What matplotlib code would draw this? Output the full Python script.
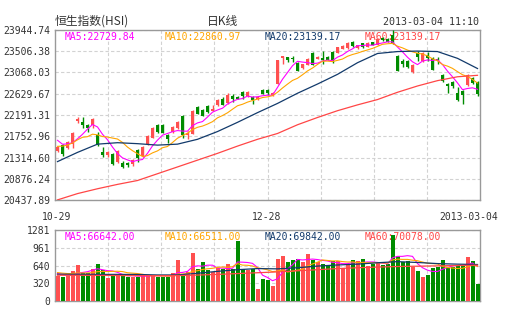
import matplotlib
matplotlib.use("Agg")
import matplotlib.pyplot as plt
import numpy as np
import pandas as pd

plt.rcParams['font.family'] = ['Noto Sans CJK SC', 'DejaVu Sans']

W, H = 505, 330

# daily candles, 10-29 .. 2013-03-04
opens = [21446, 21570, 21515, 21583, 22064, 22050, 21995, 21995, 21776, 21432,
         21357, 21378, 21227, 21192, 21206, 21172, 21467, 21343, 21583, 21721,
         21981, 21995, 21769, 21844, 21927, 22167, 21776, 21803, 22359, 22304,
         22373, 22283, 22394, 22531, 22441, 22579, 22572, 22668, 22579, 22565,
         22517, 22716, 22700, 22600, 22840, 23360, 23380, 23370, 23270, 23168,
         23231, 23471, 23354, 23368, 23382, 23492, 23471, 23560, 23574, 23697,
         23574, 23670, 23600, 23690, 23640, 23780, 23760, 23850, 23403, 23300,
         23300, 23080, 23471, 23300, 23436, 23368, 23354, 23012, 22833, 22867,
         22647, 22688, 22806, 22956, 22874]
highs = [21560, 21590, 21660, 21844, 22146, 22153, 22010, 22130, 21844, 21529,
         21450, 21400, 21460, 21240, 21225, 21288, 21480, 21545, 21789, 21945,
         22000, 22010, 21790, 21960, 22060, 22188, 21858, 22285, 22375, 22320,
         22390, 22394, 22515, 22565, 22648, 22627, 22590, 22695, 22680, 22580,
         22575, 22735, 22720, 22665, 23330, 23415, 23395, 23400, 23285, 23250,
         23360, 23490, 23400, 23505, 23400, 23505, 23600, 23625, 23690, 23725,
         23640, 23685, 23695, 23705, 23770, 23800, 23775, 23944.74, 23420, 23355,
         23320, 23245, 23506, 23485, 23491, 23380, 23380, 23030, 22853, 22890,
         22771, 22700, 23040, 22970, 22890]
lows = [21420, 21343, 21490, 21501, 22016, 21927, 21838, 21927, 21549, 21323,
        21330, 21150, 21206, 21100, 21117, 21137, 21227, 21330, 21570, 21710,
        21830, 21810, 21618, 21830, 21910, 21721, 21700, 21790, 22205, 22165,
        22240, 22265, 22380, 22390, 22425, 22462, 22515, 22531, 22565, 22421,
        22500, 22615, 22610, 22585, 22830, 23245, 23290, 23280, 23090, 23150,
        23215, 23220, 23340, 23245, 23320, 23260, 23460, 23545, 23560, 23585,
        23560, 23575, 23590, 23625, 23630, 23715, 23690, 23650, 23090, 23190,
        23160, 23065, 23300, 23290, 23300, 23110, 23250, 22880, 22647, 22750,
        22480, 22421, 22790, 22840, 22579]
closes = [21529, 21391, 21638, 21824, 22119, 21995, 21927, 22112, 21570, 21364,
          21432, 21172, 21446, 21117, 21158, 21254, 21309, 21529, 21755, 21927,
          21844, 21824, 21700, 21940, 22043, 21789, 21817, 22270, 22222, 22181,
          22256, 22318, 22497, 22407, 22613, 22524, 22531, 22579, 22661, 22510,
          22558, 22634, 22640, 22650, 23320, 23400, 23330, 23340, 23105, 23238,
          23348, 23231, 23382, 23320, 23334, 23299, 23588, 23608, 23677, 23608,
          23629, 23590, 23680, 23640, 23750, 23730, 23700, 23680, 23106, 23251,
          23177, 23231, 23389, 23471, 23368, 23127, 23299, 22901, 22785, 22785,
          22497, 22600, 23025, 22853, 22633]
volumes = [447, 435, 447, 537, 646, 507, 507, 586, 664, 556,
           423, 477, 465, 477, 435, 435, 435, 465, 477, 477,
           435, 435, 435, 507, 737, 465, 525, 858, 586, 707,
           556, 525, 598, 586, 664, 586, 1081, 586, 556, 586,
           211, 393, 374, 266, 755, 809, 695, 737, 755, 707,
           846, 737, 695, 676, 658, 719, 719, 598, 676, 737,
           719, 755, 634, 676, 695, 658, 676, 1190, 809, 695,
           719, 616, 537, 435, 477, 598, 616, 737, 598, 616,
           634, 658, 797, 719, 302]

# closes / volumes just before the window (needed for the short moving averages)
prior_closes = [21350, 21420, 21380, 21480, 21470, 21800, 21600, 21700, 21720]
prior_volumes = [540, 520, 545, 510, 540, 500, 520, 498, 510]

# long moving averages every 4 sessions
ma_idx = list(range(0, 85, 4))
ma20_vals = [21230, 21420, 21590, 21620, 21600, 21570, 21590, 21690, 21850, 22040, 22240,
             22430, 22640, 22830, 23030, 23270, 23460, 23500, 23510, 23500, 23360, 23150]
ma60_vals = [20440, 20570, 20670, 20760, 20840, 20980, 21120, 21260, 21400, 21550, 21690,
             21810, 21990, 22140, 22280, 22400, 22510, 22660, 22790, 22900, 22980, 23010]
vol_ma20_vals = [483, 482, 480, 480, 478, 470, 470, 500, 535, 565, 585,
                 580, 600, 630, 650, 665, 690, 710, 695, 675, 665, 658]
vol_ma60_vals = [465, 463, 462, 460, 458, 456, 458, 468, 480, 495, 510,
                 525, 545, 565, 585, 600, 612, 622, 628, 634, 640, 646]

price_ticks = [20437.89, 20876.24, 21314.60, 21752.96, 22191.31,
               22629.67, 23068.03, 23506.38, 23944.74]
vol_ticks = [0, 320, 640, 961, 1281]
date_labels = ["10-29", "12-28", "2013-03-04"]

price_ma_text = ["MA5:22729.84", "MA10:22860.97", "MA20:23139.17", "MA60:23139.17"]
vol_ma_text = ["MA5:66642.00", "MA10:66511.00", "MA20:69842.00", "MA60:70078.00"]

RED = "#ff5050"
GREEN = "#008c00"
MA_COLORS = ["#ff00ff", "#ffa500", "#123a6b", "#ff4646"]
FRAME = "#999999"
TEXT = "#333333"
MONO = "DejaVu Sans Mono"


def moving_average(prior, values, n):
    s = pd.Series(list(prior) + list(values), dtype=float)
    return s.rolling(n).mean().iloc[len(prior):].to_numpy()


def px_to_fig(x, y):
    return x / W, 1 - y / H


def style_axes(ax, ticks, fmt):
    n = len(closes)
    ax.set_xlim(-0.5, n - 0.5)
    ax.set_ylim(ticks[0], ticks[-1])
    ax.set_yticks(ticks)
    ax.set_yticklabels([fmt(t) for t in ticks], family=MONO, fontsize=7, color=TEXT)
    # vertical grid: 8 equal columns
    ax.set_xticks([-0.5 + n * k / 8 for k in range(1, 8)])
    ax.tick_params(axis="both", length=0, labelbottom=False, pad=3.6)
    ax.grid(True, color="#d2d2d2", linestyle=(0, (3, 2)), linewidth=0.8, zorder=0)
    ax.set_axisbelow(True)
    for sp in ax.spines.values():
        sp.set_color(FRAME)
        sp.set_linewidth(1)


def draw_labels(fig, ax, texts, y):
    for label, x, color in zip(texts, [65, 165, 265, 365], MA_COLORS):
        fx, fy = px_to_fig(x, y)
        ax.text(fx, fy, label, transform=fig.transFigure, family=MONO, fontsize=7,
                color=color, ha="left", va="center", zorder=1, clip_on=False)


def main() -> None:
    fig = plt.figure(figsize=(W / 100, H / 100), dpi=100)
    fig.patch.set_facecolor("white")

    ax = fig.add_axes([55 / W, 1 - 200 / H, 425 / W, 170 / H])
    axv = fig.add_axes([55 / W, 1 - 301 / H, 425 / W, 71 / H])

    x = np.arange(len(closes))
    o = np.array(opens, dtype=float)
    c = np.array(closes, dtype=float)
    colors = np.where(c >= o, RED, GREEN)

    # candles
    ax.vlines(x, lows, highs, colors=colors, linewidth=1, zorder=3)
    ax.bar(x, np.maximum(np.abs(c - o), 10), width=0.72, bottom=np.minimum(o, c),
           color=colors, linewidth=0, zorder=4)

    ma5 = moving_average(prior_closes, closes, 5)
    ma10 = moving_average(prior_closes, closes, 10)
    ax.plot(x, ma5, color=MA_COLORS[0], lw=0.8, zorder=5)
    ax.plot(x, ma10, color=MA_COLORS[1], lw=0.8, zorder=5)
    ax.plot(ma_idx, ma20_vals, color=MA_COLORS[2], lw=0.9, zorder=5)
    ax.plot(ma_idx, ma60_vals, color=MA_COLORS[3], lw=0.9, zorder=5)
    style_axes(ax, price_ticks, lambda t: f"{t:.2f}")

    # volume
    axv.bar(x, volumes, width=0.8, color=colors, linewidth=0, zorder=3)
    vma5 = moving_average(prior_volumes, volumes, 5)
    vma10 = moving_average(prior_volumes, volumes, 10)
    axv.plot(x, vma5, color=MA_COLORS[0], lw=0.8, zorder=4)
    axv.plot(x, vma10, color=MA_COLORS[1], lw=0.8, zorder=4)
    axv.plot(ma_idx, vol_ma20_vals, color=MA_COLORS[2], lw=0.9, zorder=4)
    axv.plot(ma_idx, vol_ma60_vals, color=MA_COLORS[3], lw=0.9, zorder=4)
    style_axes(axv, vol_ticks, lambda t: f"{t:d}")

    draw_labels(fig, ax, price_ma_text, 37)
    draw_labels(fig, axv, vol_ma_text, 237)

    # header
    fig.text(*px_to_fig(55, 21), "恒生指数(HSI)", fontsize=8.5, color=TEXT, ha="left", va="center")
    fig.text(*px_to_fig(207, 21), "日K线", fontsize=8.5, color=TEXT, ha="left", va="center")
    fig.text(*px_to_fig(479, 22), "2013-03-04 11:10", family=MONO, fontsize=7.2,
             color=TEXT, ha="right", va="center")

    # date axis
    fig.text(*px_to_fig(57, 217), date_labels[0], family=MONO, fontsize=7, color=TEXT,
             ha="center", va="center")
    fig.text(*px_to_fig(267, 217), date_labels[1], family=MONO, fontsize=7, color=TEXT,
             ha="center", va="center")
    fig.text(*px_to_fig(498, 217), date_labels[2], family=MONO, fontsize=7, color=TEXT,
             ha="right", va="center")

    fig.savefig("out.png", dpi=100, facecolor="white")
    plt.close(fig)


if __name__ == "__main__":
    main()
